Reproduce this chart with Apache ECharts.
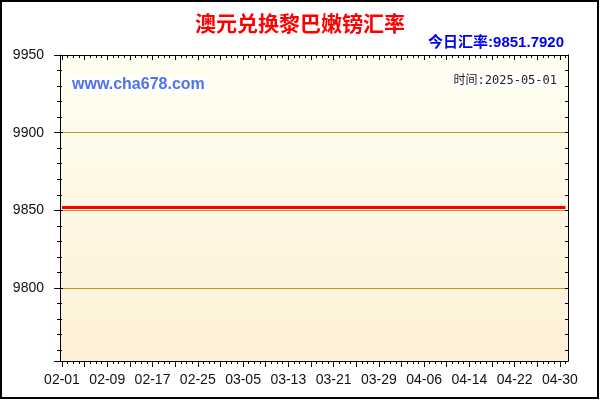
<!DOCTYPE html>
<html>
<head>
<meta charset="utf-8">
<script src="https://cdn.jsdelivr.net/npm/echarts@6/dist/echarts.min.js"></script>
<style>
html,body{margin:0;padding:0;background:#fff;}
#chart{width:600px;height:400px;}
</style>
</head>
<body>
<div id="chart"></div>
<script>
const titleText = '澳元兑换黎巴嫩镑汇率';
const subText = '今日汇率:9851.7920';
const siteText = 'www.cha678.com';
const timeText = '时间:2025-05-01';

const dates = [
 '02-01','02-02','02-03','02-04','02-05','02-06','02-07','02-08','02-09','02-10',
 '02-11','02-12','02-13','02-14','02-15','02-16','02-17','02-18','02-19','02-20',
 '02-21','02-22','02-23','02-24','02-25','02-26','02-27','02-28','03-01','03-02',
 '03-03','03-04','03-05','03-06','03-07','03-08','03-09','03-10','03-11','03-12',
 '03-13','03-14','03-15','03-16','03-17','03-18','03-19','03-20','03-21','03-22',
 '03-23','03-24','03-25','03-26','03-27','03-28','03-29','03-30','03-31','04-01',
 '04-02','04-03','04-04','04-05','04-06','04-07','04-08','04-09','04-10','04-11',
 '04-12','04-13','04-14','04-15','04-16','04-17','04-18','04-19','04-20','04-21',
 '04-22','04-23','04-24','04-25','04-26','04-27','04-28','04-29','04-30','05-01'
];

const rates = [
 9851.792,9851.792,9851.792,9851.792,9851.792,9851.792,9851.792,9851.792,9851.792,9851.792,
 9851.792,9851.792,9851.792,9851.792,9851.792,9851.792,9851.792,9851.792,9851.792,9851.792,
 9851.792,9851.792,9851.792,9851.792,9851.792,9851.792,9851.792,9851.792,9851.792,9851.792,
 9851.792,9851.792,9851.792,9851.792,9851.792,9851.792,9851.792,9851.792,9851.792,9851.792,
 9851.792,9851.792,9851.792,9851.792,9851.792,9851.792,9851.792,9851.792,9851.792,9851.792,
 9851.792,9851.792,9851.792,9851.792,9851.792,9851.792,9851.792,9851.792,9851.792,9851.792,
 9851.792,9851.792,9851.792,9851.792,9851.792,9851.792,9851.792,9851.792,9851.792,9851.792,
 9851.792,9851.792,9851.792,9851.792,9851.792,9851.792,9851.792,9851.792,9851.792,9851.792,
 9851.792,9851.792,9851.792,9851.792,9851.792,9851.792,9851.792,9851.792,9851.792,9851.792
];

const yMin = 9753;
const yMax = 9950;

const chart = echarts.init(document.getElementById('chart'), null, {renderer: 'canvas'});

const black = '#000';
const fontLatin = '"Liberation Sans", Arial, sans-serif';
const fontCJK = '"Liberation Sans", "Noto Sans CJK SC", sans-serif';

function xBase(extra) {
  return Object.assign({
    type: 'category', data: dates, boundaryGap: false, gridIndex: 0,
    axisLine: {show: false, onZero: false},
    axisTick: {show: false},
    axisLabel: {show: false},
    splitLine: {show: false}
  }, extra);
}
function yBase(extra) {
  return Object.assign({
    type: 'value', min: yMin, max: yMax, splitNumber: 4, gridIndex: 1,
    axisLine: {show: false, onZero: false},
    axisTick: {show: false},
    axisLabel: {show: false},
    splitLine: {show: false}
  }, extra);
}

const option = {
  animation: false,
  backgroundColor: '#fff',
  title: [
    {text: titleText, left: 'center', top: 13, padding: 0,
     textStyle: {color: '#ff0000', fontSize: 21, fontWeight: 'bold', fontFamily: '"Noto Sans CJK SC", sans-serif'}},
    {text: subText, right: 36, top: 35, padding: 0,
     textStyle: {color: '#0000ee', fontSize: 15, fontWeight: 'bold', fontFamily: fontCJK}},
    {text: siteText, left: 70, top: 76, padding: [1, 2], backgroundColor: '#fff',
     textStyle: {color: '#4f72ef', fontSize: 16, fontWeight: 'bold', fontFamily: fontLatin}},
    {text: timeText, right: 42, top: 74, padding: [1, 1], backgroundColor: '#fff',
     textStyle: {color: '#222', fontSize: 12, fontWeight: 'normal', fontFamily: '"DejaVu Sans Mono", "Noto Sans CJK SC", monospace'}}
  ],
  grid: [
    {left: 62, right: 34.5, top: 55, bottom: 39, show: false},
    {left: 60, right: 32, top: 55, bottom: 39, show: true, borderWidth: 0,
     backgroundColor: {type: 'linear', x: 0, y: 0, x2: 0, y2: 1,
       colorStops: [{offset: 0, color: '#fffff2'}, {offset: 1, color: '#fdf0d6'}]}}
  ],
  xAxis: [
    xBase({position: 'bottom',
      axisTick: {show: true, interval: 3, length: 6, lineStyle: {color: black}},
      axisLabel: {show: true, interval: 7, margin: 12, fontSize: 14, color: '#111', fontFamily: fontLatin}}),
    xBase({position: 'bottom',
      axisTick: {show: true, interval: 0, length: 3, lineStyle: {color: black}}}),
    xBase({position: 'top',
      axisTick: {show: true, interval: 3, inside: true, length: 5, lineStyle: {color: black}}}),
    xBase({position: 'top',
      axisTick: {show: true, interval: 0, inside: true, length: 3, lineStyle: {color: black}}}),
    xBase({gridIndex: 1, position: 'bottom', axisLine: {show: true, onZero: false, lineStyle: {color: black, width: 1}}}),
    xBase({gridIndex: 1, position: 'top', axisLine: {show: true, onZero: false, lineStyle: {color: black, width: 1}}})
  ],
  yAxis: [
    yBase({gridIndex: 0, show: false}),
    yBase({position: 'left',
      axisLine: {show: true, onZero: false, lineStyle: {color: black, width: 1}},
      axisTick: {show: true, length: 6, lineStyle: {color: black}},
      minorTick: {show: true, splitNumber: 5, length: 3, lineStyle: {color: black}},
      axisLabel: {show: true, margin: 16, fontSize: 14, color: '#111', fontFamily: fontLatin,
        showMinLabel: false,
        formatter: function (v) { return (Math.round(v) % 50 === 0) ? String(Math.round(v)) : ''; }},
      splitLine: {show: true, lineStyle: {color: '#c4961e', width: 1}}}),
    yBase({position: 'left',
      axisTick: {show: true, inside: true, length: 3, lineStyle: {color: black}},
      minorTick: {show: true, splitNumber: 5, length: 2, lineStyle: {color: black}}}),
    yBase({position: 'right',
      axisLine: {show: true, onZero: false, lineStyle: {color: black, width: 1}},
      axisTick: {show: true, inside: true, length: 3, lineStyle: {color: black}},
      minorTick: {show: true, splitNumber: 5, length: 3, lineStyle: {color: black}}})
  ],
  graphic: [
    {type: 'rect', silent: true, z: 100,
     shape: {x: 1, y: 1, width: 597, height: 397},
     style: {fill: 'none', stroke: '#000', lineWidth: 2}}
  ],
  series: [
    {type: 'line', name: 'rate', xAxisIndex: 0, yAxisIndex: 0, data: rates,
     symbol: 'none', z: 10,
     lineStyle: {color: '#ff0000', width: 3}}
  ]
};

chart.setOption(option);
</script>
</body>
</html>
